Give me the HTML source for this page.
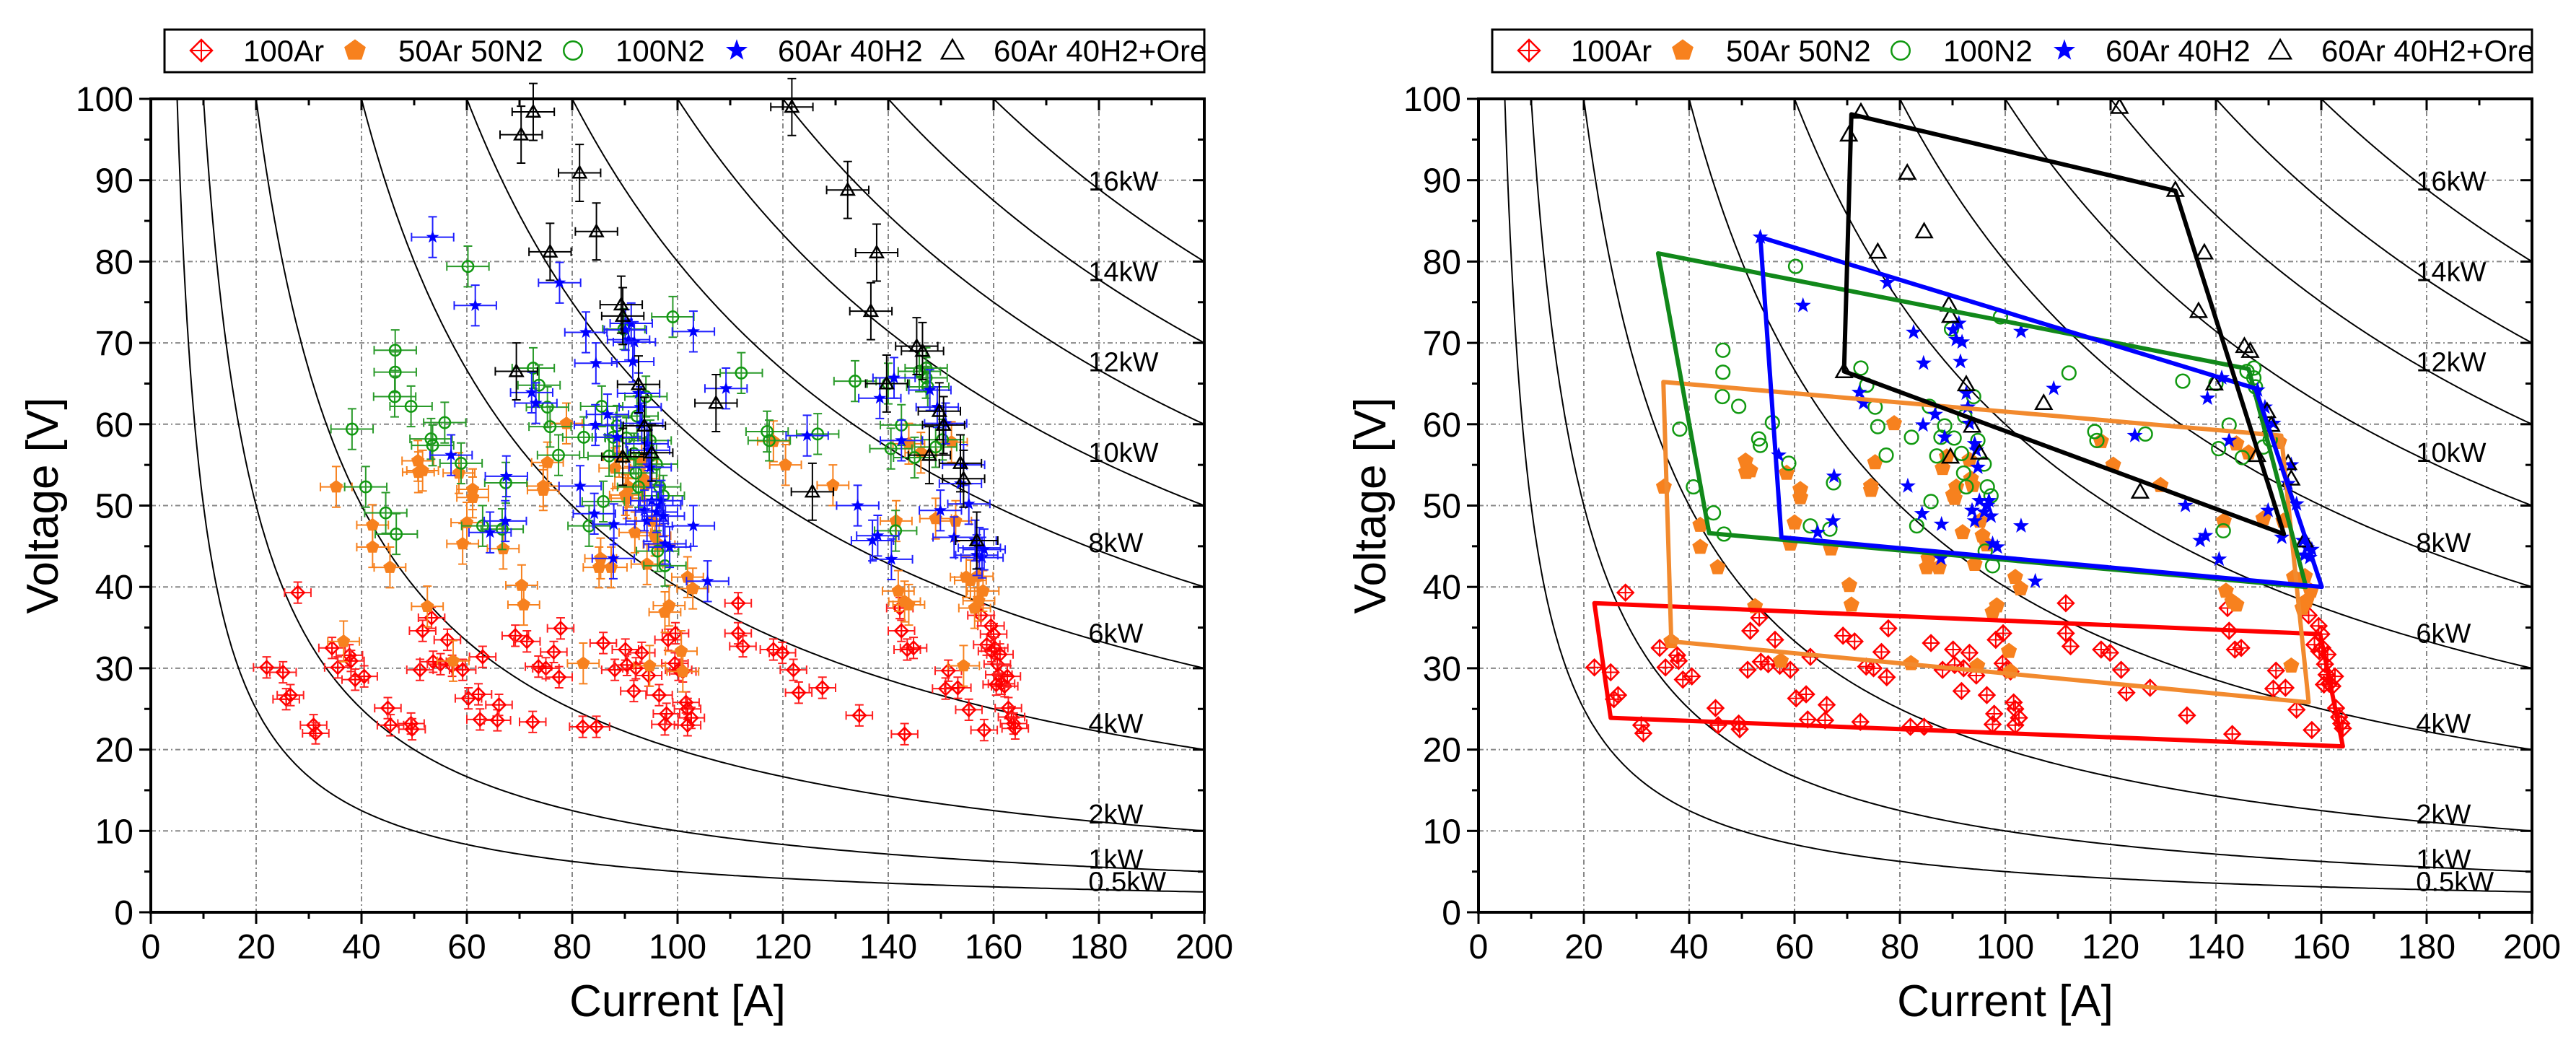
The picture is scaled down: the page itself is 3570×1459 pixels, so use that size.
<!DOCTYPE html>
<html><head><meta charset="utf-8">
<style>
html,body{margin:0;padding:0;background:#fff;}
svg{display:block;font-family:"Liberation Sans",Arial,sans-serif;}
</style></head>
<body>
<svg id="root" width="3570" height="1459" viewBox="0 0 3570 1459" xmlns="http://www.w3.org/2000/svg"></svg>
<script>
// ---- data ----
const powerLevels = [0.5, 1, 2, 4, 6, 8, 10, 12, 14, 16];
const powerLabels = ["0.5kW","1kW","2kW","4kW","6kW","8kW","10kW","12kW","14kW","16kW"];
const xTicks = [0,20,40,60,80,100,120,140,160,180,200];
const yTicks = [0,10,20,30,40,50,60,70,80,90,100];
const seriesNames = ["100Ar","50Ar 50N2","100N2","60Ar 40H2","60Ar 40H2+Ore"];
const ar100 = [[22,30.1],[25.1,29.5],[25.7,26.2],[26.5,26.7],[27.9,39.3],[30.9,23],[31.3,22],[34.4,32.5],[35.5,30.1],[37.7,31.6],[38,30.9],[38.8,28.6],[40.5,29],[45,25.1],[45.5,23],[49.4,23.2],[49.6,22.5],[51.1,29.8],[51.6,34.6],[53.3,36.2],[53.6,30.8],[55,30.5],[56.3,33.5],[57.2,30.3],[59.2,29.8],[60.3,26.3],[62.2,26.8],[62.5,23.7],[63,31.4],[65.8,23.6],[66.1,25.5],[69.2,34],[71.4,33.3],[72.5,23.4],[73.6,30.2],[75,30],[76.5,32],[77.5,28.9],[77.8,34.9],[82,22.8],[84.6,22.8],[85.9,33.1],[88.1,29.8],[90.1,32.3],[90.4,30.4],[91.7,27.2],[92.1,30],[93.2,31.9],[94.5,29.1],[96.5,26.7],[97.6,23.1],[97.9,24.4],[98.2,33.5],[99.6,34.3],[99.5,30.6],[100.2,29.8],[101,29.6],[101.6,25.8],[101.9,25],[101.9,23],[102.6,23.9],[111.5,38],[111.5,34.3],[112.4,32.7],[118.2,32.3],[119.9,31.9],[122,29.8],[123,27],[127.5,27.6],[134.5,24.2],[142.2,37.4],[142.5,34.6],[143.1,21.9],[143.6,32.3],[144.8,32.5],[151.4,29.7],[150.9,27.5],[153.2,27.6],[155.3,24.9],[158.2,22.4],[157.6,36.5],[158.7,32.9],[159.5,35.2],[160,34.2],[160.2,32.5],[160.7,30.5],[161,29.2],[161.5,28.1],[162.1,27.8],[162.6,29],[162.8,25.1],[163.4,24],[163.8,23.2],[164.1,22.6],[160.5,28],[159.6,32.1],[161.2,31.7]];
const ar50n50 = [[35.2,52.3],[36.6,33.3],[42.1,47.6],[42.1,44.9],[45.4,42.4],[50.7,55.5],[50.8,54.1],[51.6,54.3],[52.5,37.6],[58.5,54],[59.2,45.3],[60,47.9],[61.1,52],[61.1,51],[57.4,30.9],[66.9,44.7],[70.4,40.2],[70.8,37.8],[74.5,52.4],[74.5,51.9],[75.3,55.3],[78.9,60.1],[82.1,30.6],[85.4,43.5],[85.1,42.4],[87.4,42.4],[88.1,54.6],[88.9,56],[90.1,51.3],[90.4,50.9],[90.7,52.3],[91.9,46.7],[93.2,55.6],[93.5,53.3],[93.8,52.5],[94.2,42.8],[94.7,30.3],[95.2,48.1],[95.7,46.3],[96.5,45.2],[97.6,36.9],[98.4,37.7],[100.7,32.1],[101,29.6],[101.9,41.2],[102.9,39.8],[118.2,57.9],[120.5,55],[129.5,52.5],[141.9,39.5],[143.1,38.2],[143.9,37.8],[141.5,48.1],[143.9,57.6],[146.2,56.5],[149,48.4],[152,57.8],[152.8,48.1],[154.8,41.2],[155.6,40.8],[156.4,37.4],[157.2,38.3],[158,39.5],[156.9,41.3],[154.3,30.3]];
const n100 = [[38.2,59.4],[40.8,52.3],[44.6,49.1],[46.6,46.5],[46.4,69.1],[46.4,66.4],[46.3,63.4],[49.4,62.2],[53.2,58.2],[53.5,57.4],[55.8,60.2],[58.9,55.2],[60.2,79.4],[63,47.5],[66.7,47.1],[67.4,52.8],[72.6,66.9],[73.7,64.8],[75.3,62.1],[75.8,59.7],[77.4,56.2],[82.2,58.4],[83.2,47.5],[85.6,62.2],[85.9,50.5],[87,56.1],[87.8,58.4],[88.5,59.8],[89.8,71.7],[90.3,58.3],[91.7,56.4],[92.1,54],[92.3,61],[92.6,52.3],[94,63.4],[94.8,58],[96,55.1],[96.6,52.3],[97.3,51.2],[97.6,42.6],[96.2,44.4],[99.1,73.2],[112.1,66.3],[117,59.1],[117.4,58],[126.6,58.8],[133.7,65.3],[140,65],[140.5,57],[141.4,46.9],[142.5,59.9],[145,55.9],[145.9,66.5],[147.2,66.9],[147.2,65.7],[147.5,64.6],[149,57.2],[150.3,58.1]];
const ar60h40 = [[53.5,83],[57,56.2],[61.6,74.6],[64.4,46.7],[67.5,53.6],[67.3,48.1],[72.3,63.9],[73.1,62.6],[77.6,77.4],[81.5,52.4],[82.6,71.3],[84.2,49],[84.5,67.5],[84.4,59.9],[86.7,61.2],[87.8,43.5],[87.9,47.7],[88.5,58.4],[90.1,71.6],[90.7,70.4],[91.2,72.4],[91.8,70.1],[91.5,67.7],[92.6,63.8],[92.9,62.1],[93.2,60.1],[94.2,57.6],[94.5,56.8],[94.8,54.7],[93.7,49.4],[94.2,48.1],[95.1,50.6],[96,49.2],[96.6,50],[96.9,50.6],[97.3,48.7],[97.6,45.3],[98.5,44.9],[103,71.4],[103,47.5],[105.7,40.7],[109.2,64.4],[124.6,58.6],[134.2,50],[137,45.7],[138,46.3],[138.4,63.2],[140.6,43.4],[141.1,65.7],[142.5,58],[147.9,64.2],[149.3,62.1],[149.9,49.4],[150.9,60.1],[152.5,46.1],[153.7,52.7],[154.3,55],[155.3,50.2],[156.5,45.7],[156.8,43.9],[157.3,44.8],[157.8,43.6],[158.2,44.6]];
const ore = [[70.3,95.6],[72.6,98.4],[81.4,90.9],[75.8,81.2],[84.6,83.7],[69.4,66.5],[89.3,74.7],[89.6,73.3],[89.6,56],[92.6,64.9],[93.7,59.8],[95.1,56.5],[107.3,62.6],[121.7,99],[125.6,51.7],[132.3,88.8],[137.8,81.1],[136.7,73.9],[139.7,65],[145.4,69.6],[146.5,69],[147.8,56.2],[149.7,61.6],[150.5,59.9],[153.7,55.2],[154.3,53.3],[156.8,45.7]];
// error-bar half widths (A) and heights (V) per series
const errX = [2.5, 3, 4, 4, 4];
const errY = [1.3, 2.5, 2.5, 2.5, 3.5];
const polyAr = [[22,38],[159.8,34.2],[164.1,20.4],[25.1,23.9]];
const polyArN = [[35.1,65.2],[152.4,58.6],[157.6,25.8],[36.6,33.3]];
const polyN = [[34.1,81],[146.2,66.8],[157.1,40],[43.8,46.6]];
const polyH = [[53.5,83],[147.5,64.4],[160.1,40],[57.5,46.1]];
const polyOre = [[70.8,98.1],[132.3,88.7],[152.9,46.5],[69.4,66.5]];

const NS="http://www.w3.org/2000/svg";
const root=document.getElementById('root');
function mk(tag,attrs,parent){const e=document.createElementNS(NS,tag);for(const k in attrs)e.setAttribute(k,attrs[k]);(parent||root).appendChild(e);return e;}
const colors=["#ff0000","#f7811e","#119911","#0000ff","#000000"];
const errColors=["#ff2020","#f7811e","#2a9a2a","#2020ff","#000000"];
const seriesData=[ar100,ar50n50,n100,ar60h40,ore];
const polys=[polyAr,polyArN,polyN,polyH,polyOre];
const polyColors=["#ff0000","#f28a2e","#11881a","#0000ff","#000000"];

function marker(g,k,cx,cy,s){
  const c=colors[k];
  if(k===0){
    mk('polygon',{points:`${cx},${cy-s} ${cx+s},${cy} ${cx},${cy+s} ${cx-s},${cy}`,fill:'none',stroke:c,'stroke-width':2.5},g);
    mk('path',{d:`M${cx-s} ${cy}H${cx+s}M${cx} ${cy-s}V${cy+s}`,stroke:c,'stroke-width':2},g);
  }else if(k===1){
    let p=[];for(let i=0;i<5;i++){const a=-Math.PI/2+i*2*Math.PI/5;p.push((cx+s*Math.cos(a)).toFixed(1)+','+(cy+s*Math.sin(a)).toFixed(1));}
    mk('polygon',{points:p.join(' '),fill:c,stroke:c,'stroke-width':1},g);
  }else if(k===2){
    mk('circle',{cx:cx,cy:cy,r:s*0.85,fill:'none',stroke:c,'stroke-width':2.5},g);
  }else if(k===3){
    let p=[];for(let i=0;i<10;i++){const a=-Math.PI/2+i*Math.PI/5;const r=i%2?s*0.42:s*1.05;p.push((cx+r*Math.cos(a)).toFixed(1)+','+(cy+r*Math.sin(a)).toFixed(1));}
    mk('polygon',{points:p.join(' '),fill:c},g);
  }else{
    mk('polygon',{points:`${cx},${cy-s} ${cx+s},${cy+s*0.75} ${cx-s},${cy+s*0.75}`,fill:'none',stroke:c,'stroke-width':2.5},g);
  }
}

function panel(off,name,showErr,showPoly){
  const L=209+off,R=1669+off,T=137,B=1264;
  const X=v=>L+(v/200)*(R-L), Y=v=>B-(v/100)*(B-T);
  const g=mk('g',{},root);
  
  
  const grid=mk('g',{},g);
  
  
  xTicks.forEach(t=>{if(t>0&&t<200)mk('line',{x1:X(t),x2:X(t),y1:T,y2:B,stroke:'#888','stroke-width':2,'stroke-dasharray':'7,4,2,4'},grid);});
  yTicks.forEach(t=>{if(t>0&&t<100)mk('line',{x1:L,x2:R,y1:Y(t),y2:Y(t),stroke:'#888','stroke-width':2,'stroke-dasharray':'7,4,2,4'},grid);});
  const cg=mk('g',{},g);
  
  
  const clip='clip'+off;
  const cp=mk('clipPath',{id:clip},g);mk('rect',{x:L,y:T,width:R-L,height:B-T},cp);
  powerLevels.forEach((p,i)=>{
    let d='';const I0=p*1000/100;
    for(let j=0;j<=400;j++){const I=I0+(200-I0)*Math.pow(j/400,1.6);const V=p*1000/I;d+=(j?'L':'M')+X(I).toFixed(1)+' '+Y(V).toFixed(1);}
    const pth=mk('path',{d:d,fill:'none',stroke:'#000','stroke-width':2,'clip-path':`url(#${clip})`},cg);
    
    
    const tx=mk('text',{x:X(178),y:Y(p*1000/180)+2,'font-size':38,fill:'#000'},cg);
    tx.textContent=powerLabels[i];
    
    
  });
  seriesData.forEach((arr,k)=>{
    const sg=mk('g',{},g);
    
    
    arr.forEach(pt=>{
      const cx=X(pt[0]),cy=Y(pt[1]);
      if(showErr){
        const ex=(X(errX[k])-X(0)),ey=(Y(0)-Y(errY[k]));
        mk('path',{d:`M${cx-ex} ${cy}H${cx+ex}M${cx-ex} ${cy-6}V${cy+6}M${cx+ex} ${cy-6}V${cy+6}M${cx} ${cy-ey}V${cy+ey}M${cx-6} ${cy-ey}H${cx+6}M${cx-6} ${cy+ey}H${cx+6}`,stroke:errColors[k],'stroke-width':2,fill:'none'},sg);
      }
      marker(sg,k,cx,cy,showErr?9:11);
    });
  });
  if(showPoly){
    polys.forEach((pl,k)=>{
      const pg=mk('polygon',{points:pl.map(q=>X(q[0]).toFixed(1)+','+Y(q[1]).toFixed(1)).join(' '),fill:'none',stroke:polyColors[k],'stroke-width':6,'stroke-linejoin':'round'},g);
      
      
    });
  }
  const ax=mk('g',{},g);
  
  
  mk('rect',{x:L,y:T,width:R-L,height:B-T,fill:'none',stroke:'#000','stroke-width':4},ax);
  for(let t=0;t<=200;t+=10){const maj=t%20===0;const len=maj?16:9;
    mk('line',{x1:X(t),x2:X(t),y1:B,y2:B+len,stroke:'#000','stroke-width':3},ax);
    mk('line',{x1:X(t),x2:X(t),y1:T,y2:T+len,stroke:'#000','stroke-width':3},ax);}
  for(let t=0;t<=100;t+=5){const maj=t%10===0;const len=maj?16:9;
    mk('line',{x1:L-len,x2:L,y1:Y(t),y2:Y(t),stroke:'#000','stroke-width':3},ax);
    mk('line',{x1:R-len,x2:R,y1:Y(t),y2:Y(t),stroke:'#000','stroke-width':3},ax);}
  xTicks.forEach(t=>{const tx=mk('text',{x:X(t),y:B+64,'font-size':48,'text-anchor':'middle'},ax);tx.textContent=t;
    
    });
  yTicks.forEach(t=>{const tx=mk('text',{x:L-24,y:Y(t)+17,'font-size':48,'text-anchor':'end'},ax);tx.textContent=t;
    
    });
  const xt=mk('text',{x:(L+R)/2,y:1408,'font-size':62,'text-anchor':'middle'},g);xt.textContent='Current [A]';
  
  
  const yt=mk('text',{x:0,y:0,'font-size':62,'text-anchor':'middle',transform:`translate(${off+80},${(T+B)/2}) rotate(-90)`},g);yt.textContent='Voltage [V]';
  
  
  const lg=mk('g',{},g);
  
  
  mk('rect',{x:228+off,y:41,width:1441,height:59,fill:'#fff',stroke:'#000','stroke-width':3},lg);
  const mx=[279,492,794,1021,1320],tx0=[337,552,853,1078,1377];
  seriesNames.forEach((n,k)=>{
    const eg=mk('g',{},lg);
    
    
    marker(eg,k,mx[k]+off,70,15);
    const t=mk('text',{x:tx0[k]+off,y:85,'font-size':42},eg);t.textContent=n;
  });
}
panel(0,'left-panel-errorbars',true,false);
panel(1840,'right-panel-regions',false,true);
</script>
</body></html>
